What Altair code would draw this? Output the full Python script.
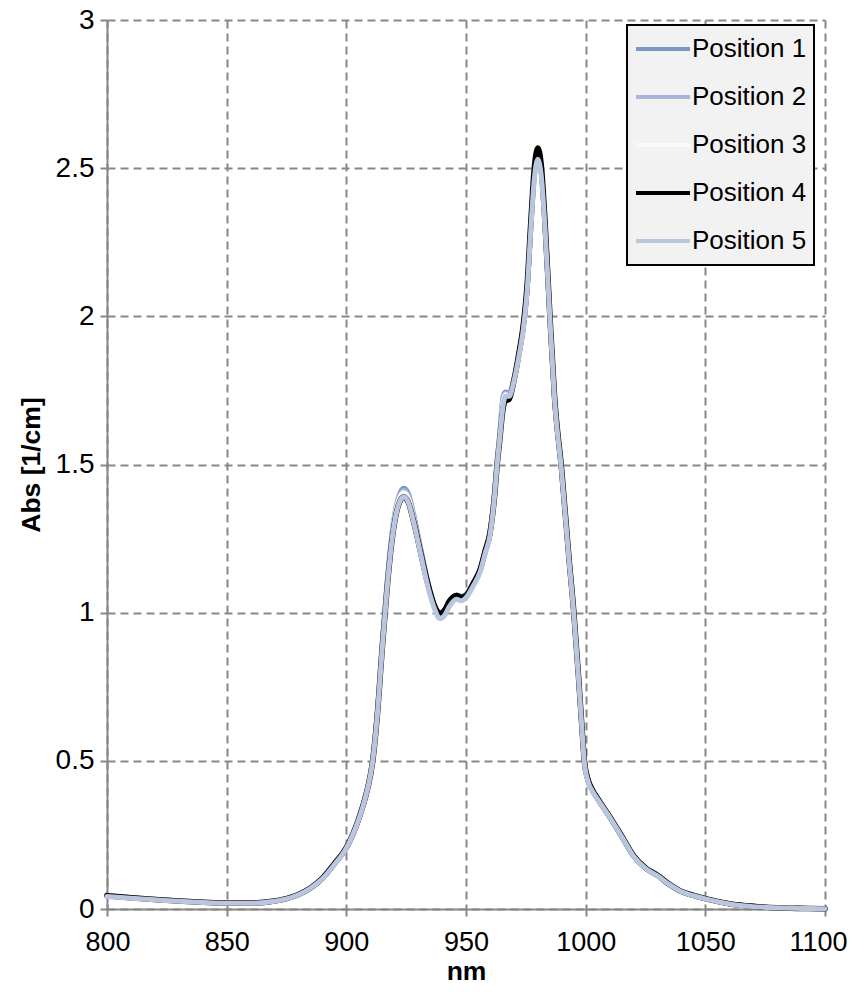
import altair as alt
import pandas as pd

series_names = ["Position 1", "Position 2", "Position 3", "Position 4", "Position 5"]
series_colors = ["#7B96C5", "#A6B7D9", "#FAFAFA", "#000000", "#B9C6DD"]

wavelength = [800, 810, 820, 830, 840, 850, 860, 870, 875, 880,
              885, 890, 895, 900, 905, 907, 909, 911, 913, 915,
              917, 919, 921, 922.5, 924, 926, 928, 931, 934, 937,
              939, 941, 943, 946, 948, 950, 953, 956, 958, 960,
              962, 963, 964, 965.5, 966.5, 968, 970, 972, 974, 975.5,
              977, 978.5, 980, 981.5, 983, 985, 987, 990, 993, 995,
              997, 998.5, 999.5, 1001, 1003, 1005, 1010, 1015, 1020, 1025,
              1030, 1035, 1040, 1045, 1050, 1060, 1070, 1080, 1090, 1100]

pos1 = [0.046, 0.039, 0.033, 0.028, 0.023, 0.020, 0.020, 0.027, 0.035, 0.049,
        0.071, 0.104, 0.153, 0.207, 0.300, 0.352, 0.415, 0.505, 0.670, 0.895,
        1.100, 1.262, 1.365, 1.405, 1.420, 1.400, 1.335, 1.220, 1.105, 1.020,
        0.990, 1.000, 1.035, 1.060, 1.055, 1.062, 1.100, 1.150, 1.210, 1.272,
        1.415, 1.515, 1.595, 1.730, 1.745, 1.740, 1.790, 1.870, 1.970, 2.090,
        2.290, 2.470, 2.550, 2.480, 2.310, 2.005, 1.725, 1.475, 1.185, 1.005,
        0.785, 0.605, 0.495, 0.435, 0.398, 0.372, 0.312, 0.247, 0.180, 0.138,
        0.113, 0.083, 0.059, 0.046, 0.035, 0.018, 0.009, 0.004, 0.002, 0.001]

pos2 = [0.045, 0.038, 0.032, 0.027, 0.023, 0.020, 0.020, 0.027, 0.035, 0.049,
        0.071, 0.104, 0.153, 0.207, 0.300, 0.351, 0.413, 0.503, 0.667, 0.892,
        1.095, 1.257, 1.360, 1.398, 1.412, 1.392, 1.330, 1.215, 1.100, 1.015,
        0.985, 0.995, 1.030, 1.055, 1.050, 1.058, 1.097, 1.147, 1.207, 1.268,
        1.410, 1.510, 1.590, 1.720, 1.740, 1.735, 1.785, 1.865, 1.965, 2.085,
        2.285, 2.465, 2.545, 2.478, 2.308, 2.004, 1.724, 1.474, 1.184, 1.004,
        0.784, 0.604, 0.494, 0.434, 0.397, 0.371, 0.311, 0.246, 0.179, 0.138,
        0.113, 0.083, 0.059, 0.046, 0.035, 0.018, 0.009, 0.004, 0.002, 0.001]

pos3 = [0.044, 0.037, 0.032, 0.027, 0.022, 0.019, 0.019, 0.026, 0.034, 0.048,
        0.070, 0.103, 0.152, 0.206, 0.299, 0.350, 0.412, 0.501, 0.664, 0.888,
        1.090, 1.252, 1.355, 1.392, 1.405, 1.385, 1.322, 1.208, 1.095, 1.012,
        0.982, 0.992, 1.026, 1.050, 1.046, 1.055, 1.094, 1.144, 1.204, 1.265,
        1.405, 1.505, 1.585, 1.710, 1.735, 1.732, 1.782, 1.862, 1.962, 2.082,
        2.282, 2.462, 2.540, 2.476, 2.305, 2.002, 1.722, 1.472, 1.182, 1.002,
        0.782, 0.602, 0.492, 0.432, 0.396, 0.370, 0.310, 0.245, 0.178, 0.137,
        0.112, 0.082, 0.058, 0.045, 0.034, 0.017, 0.008, 0.004, 0.002, 0.001]

pos4 = [0.045, 0.038, 0.032, 0.027, 0.023, 0.020, 0.020, 0.027, 0.035, 0.049,
        0.071, 0.104, 0.153, 0.207, 0.300, 0.350, 0.410, 0.498, 0.660, 0.880,
        1.080, 1.240, 1.340, 1.378, 1.390, 1.370, 1.312, 1.205, 1.100, 1.020,
        0.998, 1.008, 1.038, 1.058, 1.052, 1.058, 1.098, 1.148, 1.208, 1.268,
        1.400, 1.498, 1.575, 1.690, 1.715, 1.720, 1.782, 1.870, 1.975, 2.100,
        2.305, 2.495, 2.568, 2.505, 2.320, 2.010, 1.728, 1.478, 1.186, 1.006,
        0.786, 0.606, 0.496, 0.436, 0.399, 0.373, 0.312, 0.247, 0.180, 0.139,
        0.114, 0.083, 0.059, 0.046, 0.035, 0.018, 0.009, 0.004, 0.002, 0.001]

pos5 = [0.042, 0.036, 0.031, 0.026, 0.022, 0.019, 0.019, 0.026, 0.034, 0.048,
        0.070, 0.102, 0.150, 0.205, 0.298, 0.348, 0.410, 0.498, 0.660, 0.880,
        1.080, 1.240, 1.340, 1.378, 1.390, 1.370, 1.310, 1.200, 1.090, 1.010,
        0.980, 0.990, 1.020, 1.045, 1.040, 1.050, 1.090, 1.140, 1.200, 1.260,
        1.400, 1.500, 1.580, 1.700, 1.730, 1.730, 1.780, 1.860, 1.960, 2.080,
        2.280, 2.460, 2.530, 2.470, 2.300, 2.000, 1.720, 1.470, 1.180, 1.000,
        0.780, 0.600, 0.490, 0.430, 0.395, 0.370, 0.310, 0.245, 0.178, 0.137,
        0.112, 0.082, 0.058, 0.045, 0.034, 0.017, 0.008, 0.004, 0.002, 0.001]

x_ticks = [800, 850, 900, 950, 1000, 1050, 1100]
y_ticks = [0, 0.5, 1, 1.5, 2, 2.5, 3]

all_values = [pos1, pos2, pos3, pos4, pos5]
rows = []
for name, vals in zip(series_names, all_values):
    for w, v in zip(wavelength, vals):
        rows.append({"nm": w, "abs": v, "series": name})
df = pd.DataFrame(rows)

FONT = "Liberation Sans"
GRID = "#878787"

color_scale = alt.Scale(domain=series_names, range=series_colors)
stroke_widths = [5, 5, 5, 5.6, 5]

x_enc = alt.X("nm:Q", scale=alt.Scale(domain=[800, 1100], nice=False, zero=False),
              axis=alt.Axis(values=x_ticks, format="d", title="nm"))
y_enc = alt.Y("abs:Q", scale=alt.Scale(domain=[0, 3], nice=False),
              axis=alt.Axis(values=y_ticks, format="~g", title="Abs [1/cm]"))

layers = []
for i, name in enumerate(series_names):
    layers.append(
        alt.Chart(df)
        .transform_filter(alt.datum.series == name)
        .mark_line(strokeWidth=stroke_widths[i], interpolate="monotone", strokeCap="round")
        .encode(
            x=x_enc,
            y=y_enc,
            color=alt.Color("series:N", scale=color_scale,
                            legend=alt.Legend(title=None, orient="none", legendX=520, legendY=5)),
        )
    )

chart = (
    alt.layer(*layers)
    .properties(width=718, height=889, autosize=alt.AutoSizeParams(type="none"),
                padding={"left": 99, "top": 12, "right": 23, "bottom": 75})
    .configure_view(stroke="transparent")
    .configure_axis(
        labelFont=FONT, labelColor="#000000",
        titleFont=FONT, titleFontSize=26.5, titleFontWeight="bold", titleColor="#000000",
        domainColor=GRID, domainWidth=2, tickColor=GRID, tickWidth=2, tickSize=7,
        gridColor=GRID, gridWidth=2, gridDash=[8, 5], grid=True, labelPadding=6,
    )
    .configure_axisX(titlePadding=3, labelFontSize=27, labelFlush=True,
                     labelFlushOffset=22, labelPadding=13)
    .configure_axisY(titlePadding=10, labelFontSize=28)
    .configure_legend(
        fillColor="#F2F2F2", strokeColor="#000000", strokeWidth=2, padding=7,
        symbolType="stroke", symbolSize=2916, symbolStrokeWidth=4,
        clipHeight=34,
        labelFont=FONT, labelFontSize=26, labelColor="#000000", labelOffset=0,
        rowPadding=14, labelLimit=300,
    )
)

chart.save("out.html", embed_options={"renderer": "svg", "actions": False})
